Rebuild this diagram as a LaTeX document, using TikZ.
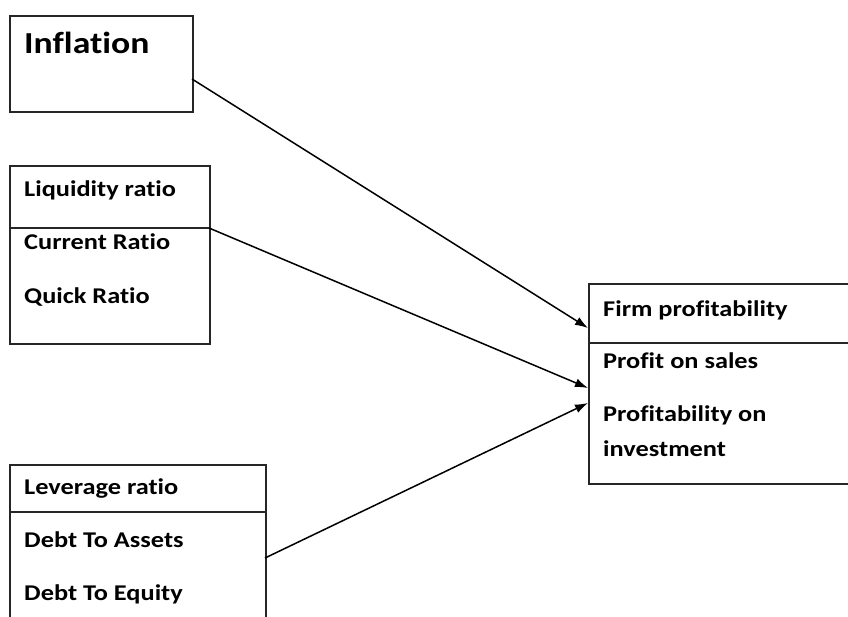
\documentclass[tikz,border=0pt]{standalone}
\usepackage{fontspec}
\setmainfont{Carlito}[Ligatures=NoCommon, BoldFont={* Bold}, BoldFeatures={FakeStretch=1.17}]
\usetikzlibrary{arrows.meta}
\tikzset{
  box/.style={draw=black!85, line width=1.5pt, anchor=north west, inner sep=0pt},
  divider/.style={draw=black!85, line width=1.5pt},
  lbl/.style={anchor=base west, inner sep=0pt, font=\fontsize{22.5}{25}\selectfont\bfseries},
  big/.style={anchor=base west, inner sep=0pt, font=\fontsize{30.5}{34}\selectfont\bfseries},
  link/.style={line width=1.5pt, -{Latex[length=13pt,width=9pt]}}
}
\begin{document}
\begin{tikzpicture}[x=1pt,y=-1pt]
\useasboundingbox (0,0) rectangle (848,616);
\clip (0,0) rectangle (848,616);
% boxes
\node[box, minimum width=183pt, minimum height=96pt] (infl) at (9,15) {};
\node[box, minimum width=200pt, minimum height=178pt] (liq) at (9,165) {};
\node[box, minimum width=256pt, minimum height=170pt] (lev) at (9,464) {};
\node[box, minimum width=280pt, minimum height=200pt] (firm) at (588,283) {};
% dividers
\draw[divider] (9,228) -- (209,228);
\draw[divider] (9,512) -- (265,512);
\draw[divider] (588,343) -- (860,343);
% texts
\node[big] (t1) at (24,53) {Inflation};
\node[lbl] (t2) at (24,196) {Liquidity ratio};
\node[lbl] (t3) at (24,249) {Current Ratio};
\node[lbl] (t4) at (24,303) {Quick Ratio};
\node[lbl] (t5) at (24,494) {Leverage ratio};
\node[lbl] (t6) at (24,547) {Debt To Assets};
\node[lbl] (t7) at (24,600) {Debt To Equity};
\node[lbl] (t8) at (603,316) {Firm profitability};
\node[lbl] (t9) at (603,368) {Profit on sales};
\node[lbl] (t10) at (603,421) {Profitability on};
\node[lbl] (t11) at (603,456) {investment};
% connector ends
\coordinate (a1) at (192,79);
\coordinate (a2) at (209,228);
\coordinate (a3) at (265,558);
\coordinate (b1) at (588,328);
\coordinate (b2) at (588,388);
\coordinate (b3) at (588,403);
\draw[link] (a1) -- (b1);
\draw[link] (a2) -- (b2);
\draw[link] (a3) -- (b3);
\end{tikzpicture}
\end{document}
